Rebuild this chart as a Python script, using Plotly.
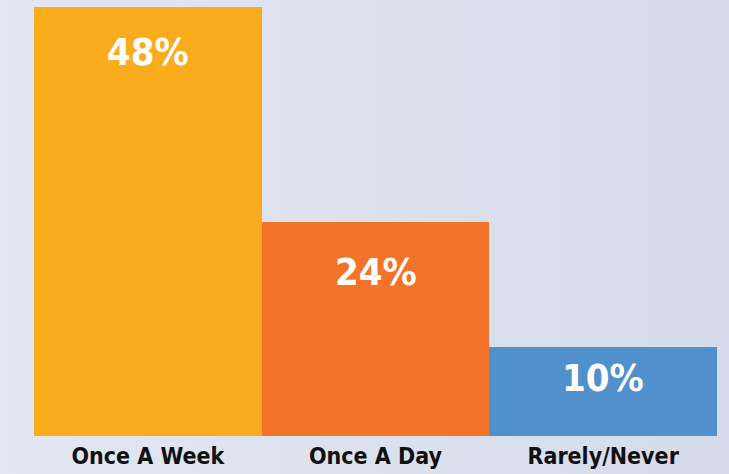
import plotly.graph_objects as go

categories = ["Once A Week", "Once A Day", "Rarely/Never"]
values = [48, 24, 10]
value_labels = ["48%", "24%", "10%"]
colors = ["#FBAC1C", "#F37329", "#4F90CD"]
label_offsets = [-30, -35, -16]

FONT = "DejaVu Sans Condensed, Liberation Sans Narrow, Roboto, sans-serif"

fig = go.Figure()
fig.add_trace(go.Bar(
    x=categories, y=values,
    marker=dict(color=colors, line=dict(width=0)),
    hoverinfo="skip",
))

for cat, v, lab, off in zip(categories, values, value_labels, label_offsets):
    fig.add_annotation(
        x=cat, y=v, text="<b>" + lab + "</b>", showarrow=False,
        yanchor="top", yshift=off + 9,
        font=dict(family=FONT, size=38, color="white"),
    )

fig.update_layout(
    width=729, height=474,
    margin=dict(l=34, r=12, t=7, b=38),
    paper_bgcolor="rgba(0,0,0,0)",
    plot_bgcolor="rgba(0,0,0,0)",
    bargap=0,
    showlegend=False,
    xaxis=dict(showgrid=False, showline=False, zeroline=False, ticks="",
               automargin=False,
               tickfont=dict(family=FONT, size=23, color="#111111"),
               ticklabelstandoff=4),
    yaxis=dict(range=[0, 48], visible=False, showgrid=False, automargin=False),
)
fig.update_xaxes(tickprefix="<b>", ticksuffix="</b>")

bg = "linear-gradient(to right, #E3E7F1, #D5DBEA)"
fig.write_html(
    "out.html", config={"displayModeBar": False},
    post_script=(
        "document.body.style.margin='0';"
        "document.documentElement.style.minHeight='100%';"
        "document.documentElement.style.background='" + bg + "';"
        "document.body.style.background='transparent';"
    ),
)
